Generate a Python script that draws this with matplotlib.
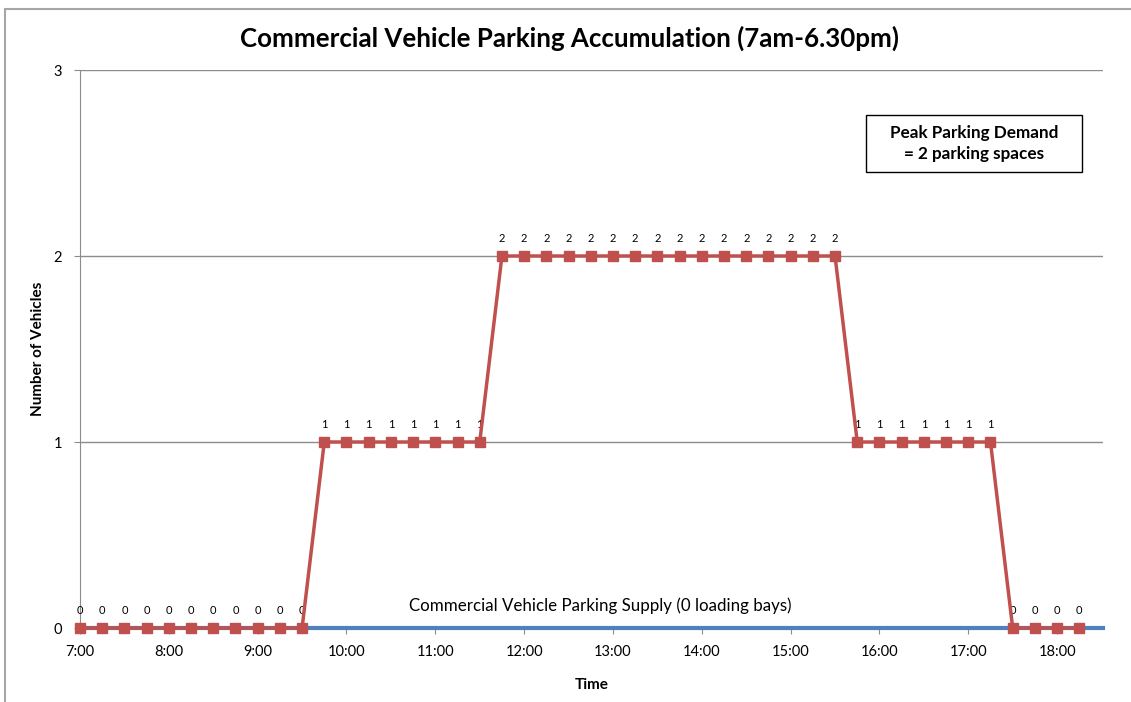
import matplotlib
matplotlib.use("Agg")
import matplotlib.pyplot as plt
from matplotlib.patches import Rectangle

plt.rcParams['font.family'] = ['Lato', 'DejaVu Sans']

# 15-minute survey intervals, 7:00 to 18:15
times = ["7:00", "7:15", "7:30", "7:45", "8:00", "8:15", "8:30", "8:45",
         "9:00", "9:15", "9:30", "9:45", "10:00", "10:15", "10:30", "10:45",
         "11:00", "11:15", "11:30", "11:45", "12:00", "12:15", "12:30", "12:45",
         "13:00", "13:15", "13:30", "13:45", "14:00", "14:15", "14:30", "14:45",
         "15:00", "15:15", "15:30", "15:45", "16:00", "16:15", "16:30", "16:45",
         "17:00", "17:15", "17:30", "17:45", "18:00", "18:15"]
vehicles = [0, 0, 0, 0, 0, 0, 0, 0, 0, 0, 0,
            1, 1, 1, 1, 1, 1, 1, 1,
            2, 2, 2, 2, 2, 2, 2, 2, 2, 2, 2, 2, 2, 2, 2, 2,
            1, 1, 1, 1, 1, 1, 1,
            0, 0, 0, 0]
supply = 0
hour_labels = ["7:00", "8:00", "9:00", "10:00", "11:00", "12:00",
               "13:00", "14:00", "15:00", "16:00", "17:00", "18:00"]


def to_hours(t):
    h, m = t.split(":")
    return int(h) + int(m) / 60.0


x = [to_hours(t) for t in times]
hour_ticks = [to_hours(t) for t in hour_labels]

W, H = 1131, 702
fig = plt.figure(figsize=(W / 100, H / 100), dpi=100)
ax = fig.add_axes([80 / W, 1 - 628 / H, (1103 - 80) / W, (628 - 70) / H])

# chart area border (runs off the right and bottom edges)
fig.patches.append(Rectangle((5 / W, -0.5), 3.0, 1 - 9 / H + 0.5,
                             transform=fig.transFigure, fill=False,
                             edgecolor='#a6a6a6', linewidth=1.5, zorder=0))

ax.set_xlim(7.0, 18.5 + 1 / 60)
ax.set_ylim(0, 3)

for yv in [1, 2, 3]:
    ax.axhline(yv, color='#8c8c8c', linewidth=1.0, zorder=1)

# supply line
ax.axhline(supply, color='#4f81bd', linewidth=3, zorder=4, clip_on=False)
ax.text(12.855, 0.075,
        "Commercial Vehicle Parking Supply (0 loading bays)",
        ha='center', va='bottom', fontsize=12.2, color='#000000')

# accumulation series
ax.plot(x, vehicles, color='#c0504d', linewidth=2.5, marker='s',
        markersize=7, markerfacecolor='#c0504d', markeredgecolor='#c0504d',
        zorder=5, clip_on=False)
for xi, v in zip(x, vehicles):
    ax.annotate(str(v), (xi, v), xytext=(0, 9), textcoords='offset points',
                ha='center', va='bottom', fontsize=8, color='#000000')

ax.set_xticks(hour_ticks)
ax.set_xticklabels(hour_labels, fontsize=10.5)
ax.set_yticks([0, 1, 2, 3])
ax.set_yticklabels(["0", "1", "2", "3"], fontsize=10.5)
ax.tick_params(axis='x', length=4, direction='out', color='#8c8c8c', pad=8)
ax.tick_params(axis='y', length=4, direction='out', color='#8c8c8c', pad=9)

for side in ['top', 'right']:
    ax.spines[side].set_visible(False)
ax.spines['left'].set_color('#8c8c8c')
ax.spines['bottom'].set_color('#8c8c8c')

ax.set_xlabel("Time", fontsize=11, fontweight='bold', labelpad=14)
ax.set_ylabel("Number of Vehicles", fontsize=11, fontweight='bold', labelpad=6)

fig.text(570 / W, 1 - 38 / H,
         "Commercial Vehicle Parking Accumulation (7am-6.30pm)",
         ha='center', va='center', fontsize=18.6, fontweight='bold')

# peak demand callout box
bx0, bx1, by0, by1 = 866, 1082, 115, 172
fig.patches.append(Rectangle((bx0 / W, 1 - by1 / H), (bx1 - bx0) / W,
                             (by1 - by0) / H, transform=fig.transFigure,
                             facecolor='white', edgecolor='#000000',
                             linewidth=1.0, zorder=10))
fig.text((bx0 + bx1) / 2 / W, 1 - (by0 + by1) / 2 / H,
         "Peak Parking Demand\n= 2 parking spaces",
         ha='center', va='center', fontsize=12.3, fontweight='bold',
         linespacing=1.45, zorder=11)

fig.savefig("out.png", dpi=100)
